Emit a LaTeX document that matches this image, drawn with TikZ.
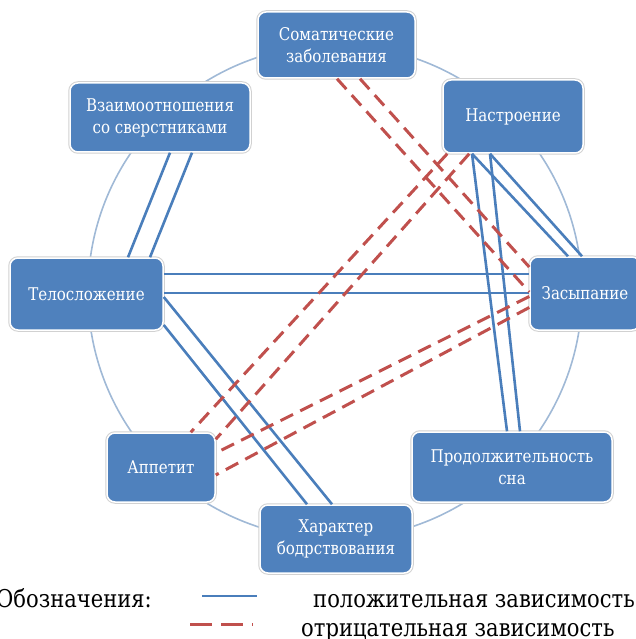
\documentclass[tikz,border=0pt]{standalone}
\usepackage{fontspec}
\setmainfont{DejaVu Serif}[FakeStretch=0.86]
\usetikzlibrary{positioning}
\definecolor{boxblue}{RGB}{79,129,189}
\definecolor{lineblue}{RGB}{74,126,187}
\definecolor{dashred}{RGB}{192,80,77}
\definecolor{ringblue}{RGB}{160,185,214}

\begin{document}
\begin{tikzpicture}[
x=1pt, y=-1pt,
factor/.style={
	rectangle,
	fill=boxblue,
	draw=white,
	line width=1.5pt,
	rounded corners=8pt,
	text=white,
	align=center,
	font=\fontsize{17.5}{22}\selectfont,
	preaction={draw=black!18, line width=3.5pt}
},
poslink/.style={
	draw=lineblue, line width=2.6pt
},
neglink/.style={
	draw=dashred, line width=3pt, dash pattern=on 14pt off 8pt
},
ring/.style={
	draw=ringblue, line width=1.6pt
},
legend/.style={
	font=\fontsize{24.5}{30}\selectfont, anchor=base west, inner sep=0pt
}
]
\useasboundingbox (0,0) rectangle (635,639);

% Ring
\coordinate (hub) at (335,292);
\draw[ring] (hub) circle [radius=247pt];

% Nodes
\node[factor, minimum width=157pt, minimum height=66pt] (somatic) at (336.5,45) {Соматические\\заболевания};
\node[factor, minimum width=180pt, minimum height=69pt] (peers) at (160,117.5) {Взаимоотношения\\со сверстниками};
\node[factor, minimum width=140pt, minimum height=73pt] (mood) at (513,116.5) {Настроение};
\node[factor, minimum width=153pt, minimum height=72pt] (build) at (86.5,294) {Телосложение};
\node[factor, minimum width=110pt, minimum height=73pt] (onset) at (585,293.5) {Засыпание};
\node[factor, minimum width=108pt, minimum height=69pt] (appetite) at (161,467.5) {Аппетит};
\node[factor, minimum width=200pt, minimum height=70pt] (duration) at (512,467) {Продолжительность\\сна};
\node[factor, minimum width=152pt, minimum height=68pt] (wake) at (336,539) {Характер\\бодрствования};

% Lines
\draw[poslink] ([xshift=10pt]peers.south) -- ([xshift=41.5pt]build.north);
\draw[poslink] ([xshift=32pt]peers.south) -- ([xshift=63.5pt]build.north);
\draw[poslink] ([yshift=20pt]build.east) -- ([yshift=19.5pt]onset.west);
\draw[poslink] ([yshift=1pt]build.east) -- ([yshift=0.5pt]onset.west);
\draw[poslink] ([yshift=-3pt]build.east) -- ([xshift=-4pt]wake.north);
\draw[poslink] ([yshift=-31pt]build.east) -- ([xshift=-29pt]wake.north);
\draw[poslink] ([xshift=-41pt]mood.south) -- ([xshift=-17pt]onset.north);
\draw[poslink] ([xshift=-23pt]mood.south) -- ([xshift=-3pt]onset.north);
\draw[poslink] ([xshift=-41pt]mood.south) -- ([xshift=-5pt]duration.north);
\draw[poslink] ([xshift=-23pt]mood.south) -- ([xshift=8pt]duration.north);

\draw[neglink] ([xshift=0.5pt]somatic.south) -- ([yshift=1.5pt]onset.west);
\draw[neglink] ([xshift=23.5pt]somatic.south) -- ([yshift=26.5pt]onset.west);
\draw[neglink] ([xshift=5pt]mood.south west) -- ([xshift=-25pt]appetite.north east);
\draw[neglink] ([xshift=27pt]mood.south west) -- ([yshift=-7pt]appetite.north east);
\draw[neglink] ([yshift=-3pt]onset.west) -- ([yshift=14.5pt]appetite.east);
\draw[neglink] ([yshift=-14pt]onset.west) -- ([yshift=-7.5pt]appetite.east);

% Legend
\node[legend] (legendtitle) at (-4,607) {Обозначения:};
\coordinate (posstart) at (202,596);
\coordinate (posend) at (257,596);
\draw[poslink] (posstart) -- (posend);
\node[legend] (poslabel) at (313,607) {положительная зависимость};
\coordinate (negstart) at (190,624);
\coordinate (negend) at (253,624);
\draw[neglink, dash pattern=on 22pt off 9pt] (negstart) -- (negend);
\node[legend] (neglabel) at (301,636) {отрицательная зависимость};

\end{tikzpicture}
\end{document}
